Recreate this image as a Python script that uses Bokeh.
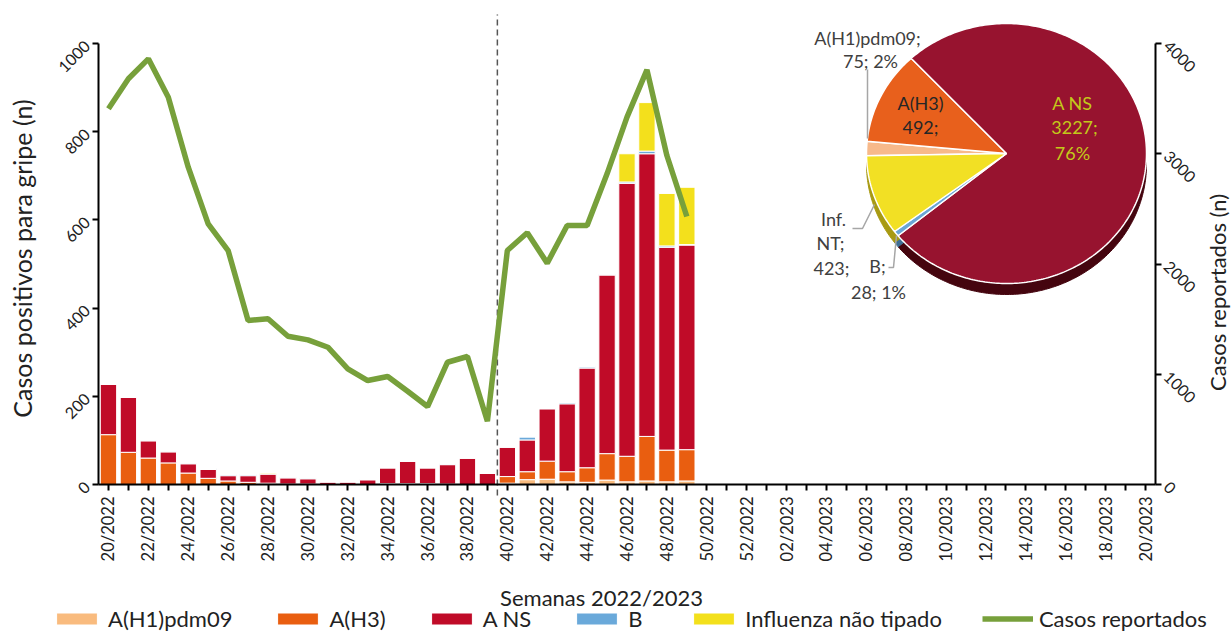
import math
from bokeh.plotting import figure
from bokeh.models import (ColumnDataSource, Range1d, LinearAxis, FixedTicker,
                          Legend, LegendItem, Label)
from bokeh.core.properties import value
from bokeh.embed import file_html
from bokeh.resources import INLINE

# ---------------- data ----------------
weeks = ["20/2022", "21/2022", "22/2022", "23/2022", "24/2022", "25/2022", "26/2022",
         "27/2022", "28/2022", "29/2022", "30/2022", "31/2022", "32/2022", "33/2022",
         "34/2022", "35/2022", "36/2022", "37/2022", "38/2022", "39/2022", "40/2022",
         "41/2022", "42/2022", "43/2022", "44/2022", "45/2022", "46/2022", "47/2022",
         "48/2022", "49/2022", "50/2022", "51/2022", "52/2022", "01/2023", "02/2023",
         "03/2023", "04/2023", "05/2023", "06/2023", "07/2023", "08/2023", "09/2023",
         "10/2023", "11/2023", "12/2023", "13/2023", "14/2023", "15/2023", "16/2023",
         "17/2023", "18/2023", "19/2023", "20/2023"]

h1n1 = [0, 0, 0, 0, 0, 0, 0, 0, 0, 0, 0, 0, 0, 0, 0, 0, 0, 0, 0, 0,
        3, 11, 12, 6, 5, 10, 6, 8, 6, 8]
h3 = [113, 73, 60, 49, 26, 14, 8, 5, 3, 1, 1, 0, 0, 0, 2, 2, 2, 1, 0, 0,
      15, 18, 41, 23, 33, 60, 58, 101, 72, 71]
a_ns = [114, 125, 39, 25, 21, 20, 12, 15, 21, 14, 12, 6, 6, 11, 36, 51, 36, 44, 60, 25,
        67, 72, 119, 154, 226, 405, 619, 641, 460, 464]
b = [0, 0, 2, 2, 2, 2, 3, 3, 0, 2, 2, 0, 0, 0, 0, 0, 0, 2, 0, 0,
     0, 7, 0, 3, 3, 2, 3, 6, 3, 1]
nt = [0, 0, 0, 0, 0, 0, 0, 0, 2, 0, 0, 0, 0, 0, 0, 0, 0, 0, 0, 0,
      0, 0, 0, 0, 0, 0, 64, 110, 119, 130]
reported = [3408, 3680, 3861, 3513, 2878, 2364, 2122, 1488, 1503, 1345, 1312, 1245, 1049,
            943, 980, 846, 707, 1109, 1161, 574, 2122, 2283, 2008, 2349, 2349, 2818,
            3332, 3761, 2984, 2431]

pie_names = ["A(H1)pdm09", "A(H3)", "A NS", "B", "Inf. NT"]
pie_values = [75, 492, 3227, 28, 423]

series_names = ["A(H1)pdm09", "A(H3)", "A NS", "B", "Influenza não tipado"]
line_name = "Casos reportados"
x_title = "Semanas 2022/2023"
y_title = "Casos positivos para gripe (n)"
y2_title = "Casos reportados (n)"

# ---------------- layout / styles ----------------
W, H = 1232, 633
AX_L, AX_R, AX_B, AX_T = 98, 1155, 484, 43      # pixel positions of the axes
n_weeks = len(weeks)
PXU_X = (AX_R - AX_L) / n_weeks                 # px per week
PXU_Y = (AX_B - AX_T) / 1000                    # px per case (left axis)
x0 = -0.5 - AX_L / PXU_X
x1 = x0 + W / PXU_X
y0 = -(H - AX_B) / PXU_Y
y1 = AX_B / PXU_Y

def dx(px):   # pixel column -> x data
    return x0 + px / PXU_X

def dy(py):   # pixel row -> left-y data
    return (AX_B - py) / PXU_Y

FONT = "Lato"
TXT = "#222222"
bar_colors = ["#f9bb7e", "#e95e10", "#c00b28", "#6aa9da", "#f3e01c"]
pie_colors = ["#f7b98a", "#e8601c", "#97132f", "#6aa6d6", "#f2e024"]
pie_depth = ["#c98a5a", "#a5400c", "#45050f", "#3f6f96", "#a89a12"]
line_color = "#77a03b"

n = len(h3)
x = list(range(n))
src = ColumnDataSource(dict(x=x, h1n1=h1n1, h3=h3, a_ns=a_ns, b=b, nt=nt, reported=reported))

p = figure(frame_width=W, frame_height=H, output_backend="svg", toolbar_location=None,
           x_range=Range1d(x0, x1), y_range=Range1d(y0, y1), min_border=0)
p.extra_y_ranges = {"cases": Range1d(y0 * 4, y1 * 4)}
p.xgrid.visible = False
p.ygrid.visible = False
p.outline_line_color = None
p.background_fill_color = "white"
p.border_fill_color = "white"

stack_r = p.vbar_stack(["h1n1", "h3", "a_ns", "b", "nt"], x="x", width=0.82, source=src,
                       color=bar_colors, line_color="white", line_width=1)

# season divider (dashed)
p.line([19.5, 19.5], [dy(495), dy(14)], line_color="#555555", line_width=1.5,
       line_dash="6 4")

line_r = p.line("x", "reported", source=src, y_range_name="cases", line_color=line_color,
                line_width=5.5)

# ---------------- axes ----------------
def style_axis(ax):
    ax.axis_line_width = 2
    ax.axis_line_color = "black"
    ax.major_tick_line_width = 2
    ax.major_tick_line_color = "black"
    ax.major_tick_out = 6
    ax.major_tick_in = 0
    ax.minor_tick_line_color = None
    ax.major_label_text_font = FONT
    ax.major_label_text_font_size = "16px"
    ax.major_label_text_color = TXT

xa = p.xaxis[0]
style_axis(xa)
xa.fixed_location = 0
xa.bounds = (-0.5, n_weeks - 0.5)
xa.ticker = FixedTicker(ticks=list(range(n_weeks)))
xa.major_label_overrides = {i: (w if i % 2 == 0 else "") for i, w in enumerate(weeks)}
xa.major_label_orientation = math.pi / 2
xa.major_label_standoff = 6
xa.major_label_text_font_size = "16.5px"

ya = p.yaxis[0]
style_axis(ya)
ya.fixed_location = -0.5
ya.ticker = FixedTicker(ticks=[0, 200, 400, 600, 800, 1000])
ya.bounds = (0, 1000)
ya.major_label_orientation = math.pi / 4

ra = LinearAxis(y_range_name="cases")
style_axis(ra)
ra.fixed_location = n_weeks - 0.5
ra.ticker = FixedTicker(ticks=[0, 1000, 2000, 3000, 4000])
ra.bounds = (0, 4000)
ra.major_label_orientation = -math.pi / 4
p.add_layout(ra, "right")

p.add_layout(Label(x=dx(601), y=dy(597), text=x_title, text_align="center",
                   text_baseline="middle", text_font=FONT, text_font_size="22px",
                   text_color=TXT))
p.add_layout(Label(x=dx(21), y=dy(258), text=y_title, text_align="center",
                   text_baseline="middle", angle=math.pi / 2, text_font=FONT,
                   text_font_size="25px", text_color=TXT))
p.add_layout(Label(x=dx(1217), y=dy(292), text=y2_title, text_align="center",
                   text_baseline="middle", angle=math.pi / 2, text_font=FONT,
                   text_font_size="22px", text_color=TXT))

# ---------------- pie (slightly tilted, so elliptical) ----------------
PIE_CX, PIE_CY = 1006, 153      # px
RX, RY = 140, 130               # px
DEPTH = 11                      # px
first_angle = 181.0             # degrees, slices run clockwise
total = sum(pie_values)

def slice_poly(a_from, a_to, shift_px=0):
    steps = max(2, int(abs(a_to - a_from)) + 1)
    xs, ys = [dx(PIE_CX)], [dy(PIE_CY + shift_px)]
    for k in range(steps + 1):
        a = math.radians(a_from + (a_to - a_from) * k / steps)
        xs.append(dx(PIE_CX + RX * math.cos(a)))
        ys.append(dy(PIE_CY + shift_px - RY * math.sin(a)))
    return xs, ys

polys, polys_d = [], []
cum = 0.0
for v in pie_values:
    a0 = first_angle - cum / total * 360
    cum += v
    a1 = first_angle - cum / total * 360
    polys.append(slice_poly(a0, a1))
    polys_d.append(slice_poly(a0, a1, DEPTH))

p.patches([q[0] for q in polys_d], [q[1] for q in polys_d], fill_color=pie_depth,
          line_color=pie_depth, line_width=1)
p.patches([q[0] for q in polys], [q[1] for q in polys], fill_color=pie_colors,
          line_color="white", line_width=1.5)

def lbl(lines, pxs, pys, color):
    p.text(x=[dx(v) for v in pxs], y=[dy(v) for v in pys], text=lines,
           text_align="center", text_baseline="middle", text_font=value(FONT),
           text_font_size="18px", text_color=color)

pct = [round(v / total * 100) for v in pie_values]
lbl([f"{pie_names[0]};", f"{pie_values[0]}; {pct[0]}%"], [867, 870], [37, 60], "#404040")
lbl([pie_names[1], f"{pie_values[1]};"], [920, 920], [102, 126], "#262626")
lbl([pie_names[2], f"{pie_values[2]};", f"{pct[2]}%"], [1072, 1074, 1072], [102, 126, 152],
    "#c3c91a")
lbl(["Inf.", "NT;", f"{pie_values[4]};"], [833, 830, 831], [218, 242, 267], "#404040")
lbl(["B;", f"{pie_values[3]}; {pct[3]}%"], [877, 878], [265, 291], "#404040")

def leader(pts):
    p.line([dx(a) for a, c in pts], [dy(c) for a, c in pts],
           line_color="#a6a6a6", line_width=1.5)

leader([(867, 69), (867, 138)])
leader([(874, 204), (862, 228), (852, 228)])
leader([(896, 235), (893, 267), (888, 267)])

# ---------------- legend ----------------
items = [LegendItem(label=nm, renderers=[r]) for nm, r in zip(series_names, stack_r)]
items.append(LegendItem(label=line_name, renderers=[line_r]))
leg = Legend(items=items, orientation="horizontal", location=(51, 1),
             glyph_width=51, glyph_height=15, label_standoff=6, spacing=40,
             label_text_font=FONT, label_text_font_size="22px", label_text_color=TXT,
             border_line_color=None, background_fill_alpha=0, padding=0, margin=0)
p.add_layout(leg, "center")

with open("out.html", "w", encoding="utf-8") as f:
    f.write(file_html(p, INLINE))
